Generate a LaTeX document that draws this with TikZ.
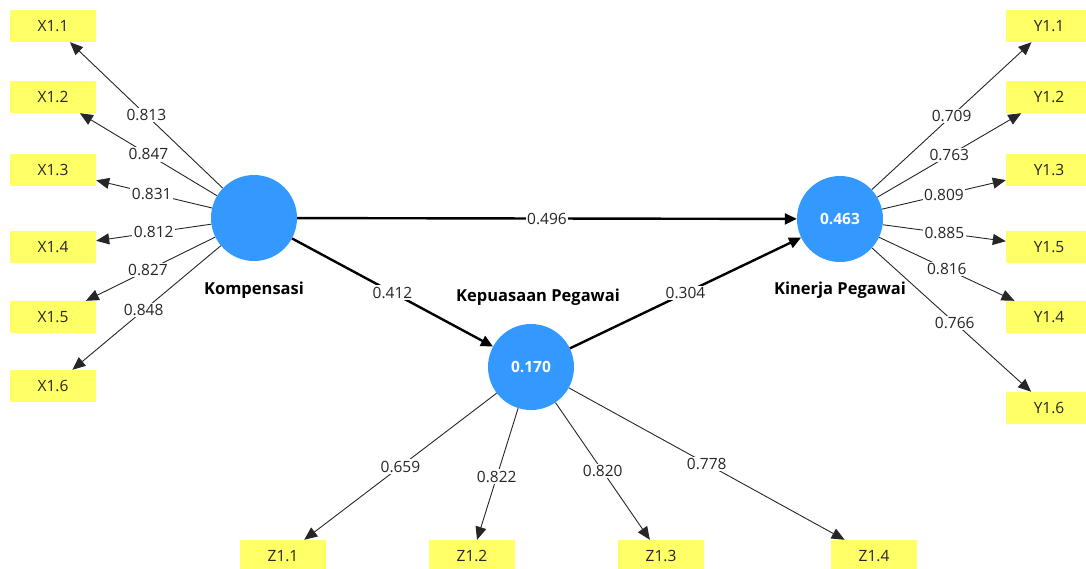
\documentclass[tikz,border=0pt]{standalone}
\usepackage{fontspec}
\setmainfont{Open Sans}
\usetikzlibrary{arrows.meta}
\definecolor{lvblue}{RGB}{51,153,255}
\definecolor{indyellow}{RGB}{255,255,102}
\begin{document}
\begin{tikzpicture}[x=1pt,y=-1pt,
  latent/.style={circle,fill=lvblue,minimum size=86pt,inner sep=0pt,text=white,
    font=\fontsize{15.5}{18}\selectfont\bfseries},
  indicator/.style={fill=indyellow,minimum width=86pt,minimum height=32pt,inner sep=0pt,
    text=black!85,font=\fontsize{15.5}{18}\selectfont},
  loading/.style={draw=black!85,line width=0.9pt,-{Triangle[length=13pt,width=11pt]}},
  structural/.style={draw=black,line width=2.4pt,-{Triangle[length=12pt,width=11pt]}},
  weight/.style={fill=white,inner sep=1.5pt,text=black!85,font=\fontsize{15.5}{18}\selectfont},
  lvname/.style={font=\fontsize{16.5}{19}\selectfont\bfseries}]
\useasboundingbox (0,0) rectangle (1086,568);
\clip (0,0) rectangle (1086,568);

% latent variables
\node[latent] (K) at (254,218) {};
\node[latent] (P) at (531,367) {0.170};
\node[latent] (J) at (840,219) {0.463};
\node[lvname] (Kname) at (254,290) {Kompensasi};
\node[lvname] (Pname) at (538,297) {Kepuasaan Pegawai};
\node[lvname] (Jname) at (840,290) {Kinerja Pegawai};

% indicators of Kompensasi
\node[indicator] (X11) at (53,26)  {X1.1};
\node[indicator] (X12) at (53,97)  {X1.2};
\node[indicator] (X13) at (53,170) {X1.3};
\node[indicator] (X14) at (53,247) {X1.4};
\node[indicator] (X15) at (53,317) {X1.5};
\node[indicator] (X16) at (53,386) {X1.6};

% indicators of Kinerja Pegawai
\node[indicator] (Y11) at (1049,26)  {Y1.1};
\node[indicator] (Y12) at (1049,97)  {Y1.2};
\node[indicator] (Y13) at (1049,170) {Y1.3};
\node[indicator] (Y15) at (1049,247) {Y1.5};
\node[indicator] (Y14) at (1049,317) {Y1.4};
\node[indicator] (Y16) at (1049,408) {Y1.6};

% indicators of Kepuasaan Pegawai
\node[indicator] (Z11) at (283,556) {Z1.1};
\node[indicator] (Z12) at (472,556) {Z1.2};
\node[indicator] (Z13) at (661,556) {Z1.3};
\node[indicator] (Z14) at (874,556) {Z1.4};

% outer loadings
\draw[loading] (K) -- node[weight,pos=0.5] {0.813} (X11);
\draw[loading] (K) -- node[weight,pos=0.5] {0.847} (X12);
\draw[loading] (K) -- node[weight,pos=0.52] {0.831} (X13);
\draw[loading] (K) -- node[weight,pos=0.5] {0.812} (X14);
\draw[loading] (K) -- node[weight,pos=0.52] {0.827} (X15);
\draw[loading] (K) -- node[weight,pos=0.52] {0.848} (X16);

\draw[loading] (J) -- node[weight,pos=0.5] {0.709} (Y11);
\draw[loading] (J) -- node[weight,pos=0.5] {0.763} (Y12);
\draw[loading] (J) -- node[weight,pos=0.5] {0.809} (Y13);
\draw[loading] (J) -- node[weight,pos=0.5] {0.885} (Y15);
\draw[loading] (J) -- node[weight,pos=0.5] {0.816} (Y14);
\draw[loading] (J) -- node[weight,pos=0.52] {0.766} (Y16);

\draw[loading] (P) -- node[weight,pos=0.5] {0.659} (Z11);
\draw[loading] (P) -- node[weight,pos=0.52] {0.822} (Z12);
\draw[loading] (P) -- node[weight,pos=0.5] {0.820} (Z13);
\draw[loading] (P) -- node[weight,pos=0.5] {0.778} (Z14);

% path coefficients
\draw[structural] (K) -- node[weight,pos=0.5] {0.496} (J);
\draw[structural] (K) -- node[weight,pos=0.5] {0.412} (P);
\draw[structural] (P) -- node[weight,pos=0.5] {0.304} (J);
\end{tikzpicture}
\end{document}
